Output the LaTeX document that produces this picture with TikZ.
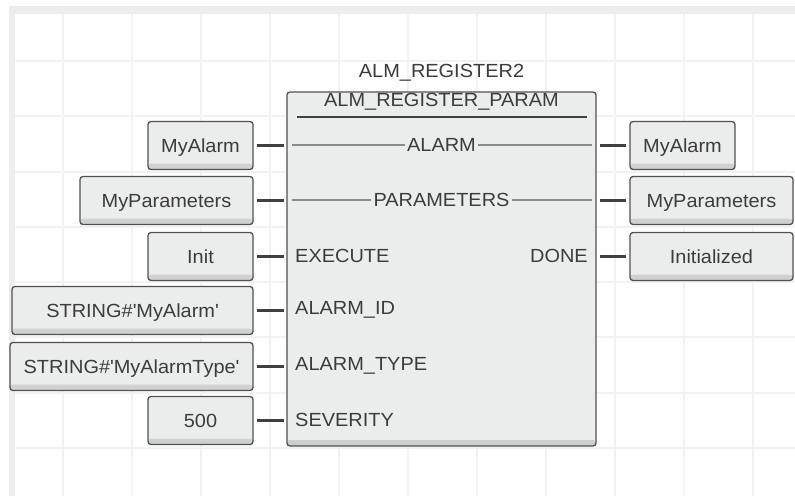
\documentclass[tikz,border=0pt]{standalone}
\usepackage{fontspec}
\setmainfont[FakeStretch=1.05]{Liberation Sans}
\usetikzlibrary{calc}
\definecolor{gridc}{HTML}{F1F2F1}
\definecolor{bandc}{HTML}{ECEEED}
\definecolor{boxfill}{HTML}{EBECEC}
\definecolor{boxshade}{HTML}{CDCECE}
\definecolor{boxline}{HTML}{505252}
\definecolor{txt}{HTML}{3C3C3C}
\definecolor{stubc}{HTML}{404040}
\definecolor{pinline}{HTML}{8A8C8C}
\newcommand{\sq}{\textquotesingle}
\tikzset{
  lbl/.style={font=\fontsize{19}{22}\selectfont, text=txt, inner sep=1pt},
  valbox/.style={lbl, draw=boxline, line width=1.3pt, fill=boxfill, rounded corners=3pt,
    minimum height=48pt, inner sep=0pt, text depth=0pt, yshift=-0.5pt,
    path picture={\shade[top color=boxfill, bottom color=boxshade]
      ([yshift=6pt]path picture bounding box.south west) rectangle (path picture bounding box.south east);}},
  fbbox/.style={draw=boxline, line width=1.3pt, fill=boxfill, rounded corners=3pt, inner sep=0pt,
    path picture={\shade[top color=boxfill, bottom color=boxshade]
      ([yshift=6pt]path picture bounding box.south west) rectangle (path picture bounding box.south east);}},
  stub/.style={draw=stubc, line width=3pt},
  pinln/.style={draw=pinline, line width=1.4pt},
  gridln/.style={draw=gridc, line width=2.5pt}
}
\begin{document}
\begin{tikzpicture}[x=1pt,y=-1pt]
\useasboundingbox (0,0) rectangle (795,496);
\fill[white] (0,0) rectangle (795,496);
% grid
\foreach \gx in {63,132,201,270,339,408,477,546,615,684,753}
  \draw[gridln] (\gx,14) -- (\gx,496);
\foreach \gy in {61,116,172,227,282,337,393,448}
  \draw[gridln] (15,\gy) -- (795,\gy);
% frame band
\fill[bandc] (9,6) rectangle (795,14);
\fill[bandc] (9,6) rectangle (15,496);

% function block
\node[fbbox, minimum width=309pt, minimum height=354pt] (blk) at (441.5,269) {};
\node[lbl] (title) at (441.5,73) {ALM\_REGISTER2};
\node[lbl] (hdr) at (441.5,102) {ALM\_REGISTER\_PARAM};
\coordinate (ulL) at (297,117);
\coordinate (ulR) at (587,117);
\draw[draw=stubc, line width=1.6pt] (ulL) -- (ulR);

% pins inside block
\node[lbl, inner sep=2pt] (pAlarm) at (441.5,145) {ALARM};
\node[lbl, inner sep=2pt] (pParam) at (441.5,200) {PARAMETERS};
\draw[pinln] ($(pAlarm.west -| blk.west)+(6,0)$) -- (pAlarm.west);
\draw[pinln] (pAlarm.east) -- ($(pAlarm.east -| blk.east)+(-5,0)$);
\draw[pinln] ($(pParam.west -| blk.west)+(6,0)$) -- (pParam.west);
\draw[pinln] (pParam.east) -- ($(pParam.east -| blk.east)+(-5,0)$);
\node[lbl, anchor=west] (pExec) at (294,256) {EXECUTE};
\node[lbl, anchor=east] (pDone) at (589,256) {DONE};
\node[lbl, anchor=west] (pId) at (294,310) {ALARM\_ID};
\node[lbl, anchor=west] (pType) at (294,366) {ALARM\_TYPE};
\node[lbl, anchor=west] (pSev) at (294,420) {SEVERITY};

% input boxes
\node[valbox, minimum width=105pt] (inA) at (200.5,145) {MyAlarm};
\node[valbox, minimum width=173pt] (inP) at (166.5,200) {MyParameters};
\node[valbox, minimum width=105pt] (inE) at (200.5,256) {Init};
\node[valbox, minimum width=241pt] (inI) at (132.5,310) {STRING\#\sq MyAlarm\sq};
\node[valbox, minimum width=243pt] (inT) at (131.5,366) {STRING\#\sq MyAlarmType\sq};
\node[valbox, minimum width=105pt] (inS) at (200.5,420) {500};

% output boxes
\node[valbox, minimum width=105pt] (outA) at (682.5,145) {MyAlarm};
\node[valbox, minimum width=163pt] (outP) at (711.5,200) {MyParameters};
\node[valbox, minimum width=163pt] (outD) at (711.5,256) {Initialized};

% stubs
\foreach \n in {inA,inP,inE,inI,inT,inS}
  \draw[stub] ([xshift=3pt]\n.east) -- ([xshift=-2pt]\n.east -| blk.west);
\foreach \n in {outA,outP,outD}
  \draw[stub] ([xshift=3pt]\n.west -| blk.east) -- ([xshift=-3pt]\n.west);
\end{tikzpicture}
\end{document}
